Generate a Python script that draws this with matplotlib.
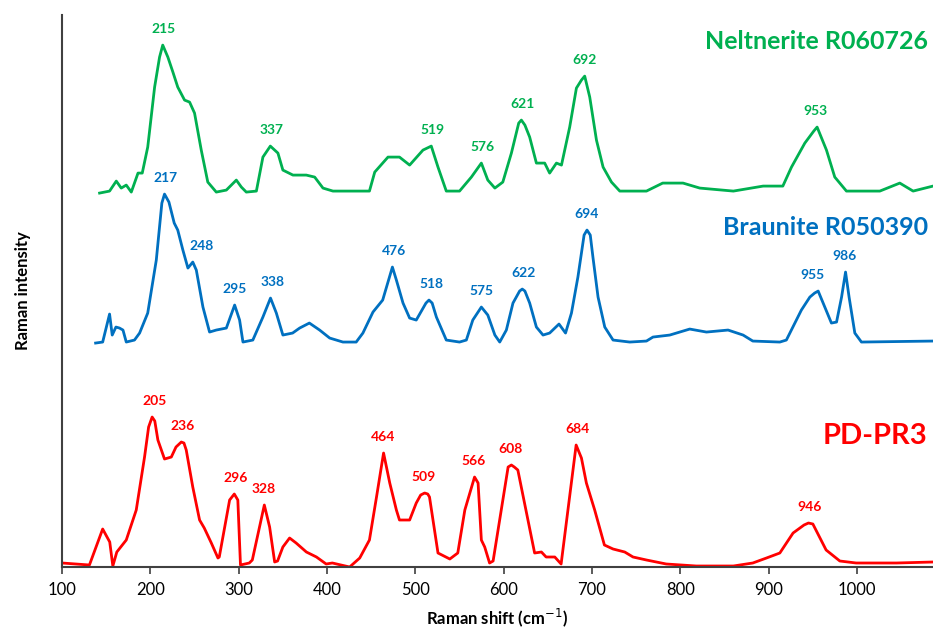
import numpy as np
import matplotlib.pyplot as plt

# spectra (wavenumber, relative intensity above own baseline)
pd_x = [100, 131, 146, 154, 157.5, 162, 172.7, 184, 193.4, 198, 202, 205, 208.5, 216, 223.7, 229,
        235, 238, 240.6, 248, 255.7, 261, 269, 276.5, 278, 289.7, 295, 299, 302, 312, 315.4, 329,
        335, 340.7, 344, 350, 357.6, 365, 376.6, 388, 399, 406, 425.6, 437, 448, 456, 464, 471,
        478.5, 482, 493.5, 501, 506, 510.5, 514, 516, 525.6, 539, 548, 556, 567, 571, 574.7, 578.5,
        584, 588, 605, 608.7, 612, 616, 635, 642.7, 648, 657.8, 665, 682, 688, 693.6, 703, 714,
        723.8, 737, 746.4, 761.6, 784, 818, 860, 882, 897.5, 912.6, 927.6, 940, 945, 950, 965,
        980.5, 999, 1044.7, 1086]
pd_y = [4, 2, 38, 25, 1, 15, 27, 57, 110, 140, 150, 146, 127, 108, 110, 120,
        125, 124, 117, 80, 47, 39, 24, 9, 10, 67, 73, 67, 2, 4, 7, 62,
        40, 5, 6, 20, 29, 24, 15, 10, 3, 4, 0, 9, 27, 70, 114, 84,
        57, 47, 47, 64, 72, 74, 73, 70, 14, 8, 14, 57, 90, 84, 27, 20,
        4, 6, 100, 102, 100, 97, 14, 15, 10, 10, 3, 122, 109, 84, 57, 22,
        18, 15, 10, 7, 3, 1, 1, 4, 9, 14, 34, 42, 44, 43, 17,
        6, 4, 4, 5]

br_x = [138, 146, 153.8, 156.8, 161, 165, 169, 172.7, 182, 187.8, 197, 206.7, 213, 216, 221, 227, 231,
        236.8, 242.5, 248, 252, 259.5, 267, 274.6, 286, 295.4, 301, 304.8, 316, 327.4, 336, 342.6,
        350, 361, 369, 380, 391.6, 403, 418, 433, 440.6, 452, 463, 474, 478.5, 486, 493.5, 501,
        512, 515.4, 519, 523.8, 535, 550, 557.7, 565, 574.7, 582, 590, 595.5, 603, 610.5, 618, 621,
        624, 629.4, 637, 644.5, 652, 662.6, 670, 676.7, 684, 691, 694.3, 698, 701, 706.8, 714.4,
        723.8, 742.7, 761.6, 769, 788, 810.6, 829.5, 854, 871, 882, 912.6, 920, 937, 946.6, 952,
        956, 963.5, 971, 976.8, 982.5, 987, 991, 997.5, 1005, 1086]
br_y = [0, 1, 29, 8, 16, 15, 13, 1, 3, 10, 30, 83, 140, 149, 141, 120, 113,
        93, 75, 81, 73, 36, 11, 13, 15, 38, 23, 1, 3, 26, 45, 30,
        8, 10, 15, 20, 13, 5, 1, 1, 10, 31, 43, 76, 63, 40, 25, 23,
        40, 43, 40, 26, 3, 1, 3, 23, 36, 28, 8, 1, 13, 40, 52, 54,
        52, 40, 16, 8, 10, 19, 10, 30, 66, 108, 113, 108, 86, 46, 16,
        3, 1, 2, 6, 8, 14, 11, 13, 8, 2, 1, 3, 33, 46, 50,
        52, 36, 20, 21, 46, 71, 46, 10, 1, 2]

ne_x = [142.5, 153.8, 161.4, 167, 172.7, 178.4, 186, 190.8, 197, 204.8, 210.4, 214, 219.8, 225.5,
        231, 238.7, 244.4, 250, 257.6, 265, 274.6, 286, 297.3, 303, 308.6, 320, 327.4, 335.8, 344.4,
        350, 361.4, 376.5, 386, 395.4, 406.7, 437, 448, 454, 469, 482, 493.5, 508.6, 518, 525.6,
        535, 550, 563.4, 574.7, 582, 590, 599, 608.7, 617, 620, 624, 629.4, 637, 646.4, 652, 659.7,
        665.4, 674.7, 682.3, 688, 691.7, 697.4, 705, 712.5, 722, 731.4, 761.6, 780, 803, 822, 860,
        893.7, 916, 925.8, 940.9, 951, 954.8, 965.4, 974.8, 988, 1025.8, 1048.4, 1063.5, 1086]
ne_y = [0, 2, 12, 5, 8, 1, 20, 20, 46, 106, 136, 148, 136, 121,
        106, 93, 91, 80, 43, 11, 1, 3, 13, 6, 1, 2, 36, 47, 40,
        23, 18, 18, 16, 5, 2, 2, 2, 21, 36, 36, 28, 43, 47, 26,
        2, 2, 16, 30, 13, 5, 11, 40, 70, 73, 68, 56, 30, 30, 20, 30,
        28, 66, 105, 113, 117, 96, 53, 26, 11, 2, 2, 10, 10, 5, 2,
        7, 7, 26, 50, 62, 66, 43, 16, 2, 2, 10, 2, 7]

pd_peaks = [205, 236, 296, 328, 464, 509, 566, 608, 684, 946]
br_peaks = [217, 248, 295, 338, 476, 518, 575, 622, 694, 955, 986]
ne_peaks = [215, 337, 519, 576, 621, 692, 953]

names = ['PD-PR3', 'Braunite R050390', 'Neltnerite R060726']
colors = ['#FF0000', '#0070C0', '#00B050']
offsets = [0, 224, 374]
label_nudge = {(1, 248): 10, (1, 955): -5}

plt.rcParams['font.family'] = ['Lato', 'DejaVu Sans']
fig = plt.figure(figsize=(9.33, 6.3), dpi=100)
ax = fig.add_axes([0.0665, 0.1, 0.9335, 0.876])

series = [(pd_x, pd_y, pd_peaks), (br_x, br_y, br_peaks), (ne_x, ne_y, ne_peaks)]
for i, (sx, sy, peaks) in enumerate(series):
    sx = np.array(sx); sy = np.array(sy) + offsets[i]
    ax.plot(sx, sy, color=colors[i], lw=2.0, solid_joinstyle='round')
    for p in peaks:
        near = sy[np.abs(sx - p) <= 8]
        top = near.max() if len(near) else np.interp(p, sx, sy)
        ax.text(p + label_nudge.get((i, p), 0), top + 16, str(p), color=colors[i],
                ha='center', va='center', fontsize=10, fontweight='bold')

ax.text(1080, 131, names[0], color=colors[0], ha='right', va='center', fontsize=21, fontweight='bold')
ax.text(1080, 340, names[1], color=colors[1], ha='right', va='center', fontsize=18, fontweight='bold')
ax.text(1080, 526, names[2], color=colors[2], ha='right', va='center', fontsize=18, fontweight='bold')

ax.set_xlim(100, 1086)
ax.set_ylim(0, 552)
ax.set_xticks(range(100, 1001, 100))
ax.set_yticks([])
ax.tick_params(axis='x', labelsize=12, length=5, width=1.2, color='#404040', pad=6)
for s in ['top', 'right']:
    ax.spines[s].set_visible(False)
for s in ['left', 'bottom']:
    ax.spines[s].set_linewidth(1.5)
    ax.spines[s].set_color('#404040')
ax.set_xlabel('Raman shift (cm$^{-1}$)', fontsize=12, fontweight='bold', labelpad=6)
ax.set_ylabel('Raman intensity', fontsize=12, fontweight='bold', labelpad=22)

fig.savefig('out.png')
